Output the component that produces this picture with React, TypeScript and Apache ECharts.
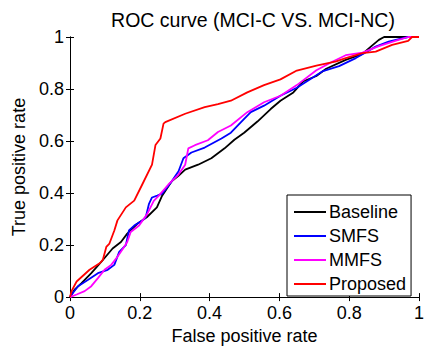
import React, { useEffect, useRef } from "react";
import * as echarts from "echarts";

const titleText = "ROC curve (MCI-C VS. MCI-NC)";
const xName = "False positive rate";
const yName = "True positive rate";
const seriesNames = ["Baseline", "SMFS", "MMFS", "Proposed"];
const seriesColors = ["#000000", "#0000ff", "#ff00ff", "#ff0000"];

const baseline: number[][] = [
  [0, 0], [0.014, 0.03], [0.033, 0.054], [0.061, 0.092], [0.09, 0.136], [0.122, 0.187],
  [0.146, 0.212], [0.164, 0.244], [0.192, 0.281], [0.22, 0.307], [0.249, 0.345],
  [0.264, 0.39], [0.273, 0.408], [0.292, 0.446], [0.31, 0.465], [0.33, 0.49],
  [0.367, 0.509], [0.405, 0.534], [0.443, 0.572], [0.471, 0.605], [0.499, 0.632],
  [0.537, 0.675], [0.575, 0.723], [0.603, 0.755], [0.64, 0.787], [0.669, 0.83],
  [0.706, 0.85], [0.734, 0.878], [0.79, 0.912], [0.838, 0.935], [0.862, 0.963],
  [0.885, 0.989], [0.9, 1], [1, 1],
];
const smfs: number[][] = [
  [0, 0], [0.005, 0.01], [0.023, 0.042], [0.052, 0.067], [0.08, 0.092], [0.108, 0.105],
  [0.127, 0.124], [0.141, 0.174], [0.16, 0.2], [0.169, 0.256], [0.184, 0.275],
  [0.207, 0.294], [0.217, 0.307], [0.226, 0.357], [0.235, 0.383], [0.25, 0.39],
  [0.264, 0.398], [0.292, 0.446], [0.311, 0.484], [0.325, 0.534], [0.348, 0.556],
  [0.386, 0.575], [0.434, 0.61], [0.461, 0.632], [0.49, 0.673], [0.518, 0.711],
  [0.556, 0.736], [0.603, 0.774], [0.65, 0.805], [0.687, 0.837], [0.725, 0.869],
  [0.771, 0.888], [0.819, 0.919], [0.876, 0.963], [0.913, 0.982], [0.969, 1], [1, 1],
];
const mmfs: number[][] = [
  [0, 0], [0.019, 0.01], [0.042, 0.023], [0.061, 0.042], [0.08, 0.073], [0.099, 0.105],
  [0.118, 0.124], [0.136, 0.155], [0.155, 0.193], [0.164, 0.212], [0.174, 0.25],
  [0.198, 0.275], [0.221, 0.319], [0.24, 0.37], [0.254, 0.389], [0.282, 0.433],
  [0.311, 0.471], [0.33, 0.509], [0.339, 0.572], [0.358, 0.584], [0.395, 0.603],
  [0.424, 0.635], [0.461, 0.66], [0.508, 0.711], [0.556, 0.749], [0.603, 0.774],
  [0.65, 0.815], [0.706, 0.872], [0.753, 0.906], [0.79, 0.93], [0.838, 0.94],
  [0.885, 0.965], [0.932, 0.985], [0.969, 1], [1, 1],
];
const proposed: number[][] = [
  [0, 0], [0.005, 0.025], [0.019, 0.06], [0.056, 0.105], [0.085, 0.13], [0.094, 0.143],
  [0.104, 0.193], [0.113, 0.206], [0.127, 0.256], [0.136, 0.295], [0.16, 0.345],
  [0.184, 0.371], [0.207, 0.433], [0.235, 0.509], [0.245, 0.585], [0.259, 0.61],
  [0.268, 0.667], [0.273, 0.673], [0.33, 0.705], [0.386, 0.73], [0.424, 0.742],
  [0.461, 0.755], [0.508, 0.787], [0.556, 0.815], [0.603, 0.837], [0.65, 0.871],
  [0.706, 0.89], [0.763, 0.906], [0.79, 0.919], [0.838, 0.938], [0.876, 0.944],
  [0.923, 0.97], [0.969, 0.985], [0.98, 1], [1, 1],
];
const seriesData = [baseline, smfs, mmfs, proposed];
const tickLabels = ["0", "0.2", "0.4", "0.6", "0.8", "1"];

const FONT = "'Liberation Sans', Arial, Helvetica, sans-serif";
const FS = 18;

export default function App() {
  const ref = useRef<HTMLDivElement>(null);
  useEffect(() => {
    if (!ref.current) return;
    const chart = echarts.init(ref.current, undefined, { renderer: "svg" });
    const fmt = (v: number) => tickLabels[Math.round(v * 5)] ?? String(v);
    const mainAxis = (pos: "bottom" | "left", name: string) => ({
      type: "value" as const,
      position: pos,
      min: 0,
      max: 1,
      interval: 0.2,
      name,
      nameLocation: "middle" as const,
      nameGap: pos === "bottom" ? 22 : 33,
      nameTextStyle: { color: "#000", fontSize: FS, fontFamily: FONT },
      axisLine: { show: true, lineStyle: { color: "#000", width: 1 } },
      axisTick: { show: true, inside: true, length: 4, lineStyle: { color: "#000" } },
      axisLabel: {
        color: "#000",
        fontSize: FS,
        fontFamily: FONT,
        margin: pos === "bottom" ? 7 : 6,
        formatter: fmt,
      },
      splitLine: { show: false },
    });
    const sideAxis = (pos: "top" | "right") => ({
      type: "value" as const,
      position: pos,
      min: 0,
      max: 1,
      interval: 0.2,
      axisLine: { show: true, lineStyle: { color: "#000", width: 1 } },
      axisTick: { show: true, inside: true, length: 4, lineStyle: { color: "#000" } },
      axisLabel: { show: false },
      splitLine: { show: false },
    });
    chart.setOption({
      animation: false,
      backgroundColor: "#fff",
      title: {
        text: titleText,
        left: 248,
        textAlign: "center",
        top: 5,
        textStyle: { color: "#000", fontSize: 19.5, fontWeight: "normal", fontFamily: FONT },
      },
      grid: { left: 70, right: 3, top: 37, bottom: 49, containLabel: false },
      xAxis: [mainAxis("bottom", xName), sideAxis("top")],
      yAxis: [mainAxis("left", yName), sideAxis("right")],
      legend: {
        orient: "vertical",
        left: 287,
        top: 195,
        data: seriesNames,
        icon: "rect",
        backgroundColor: "#fff",
        borderColor: "#000",
        borderWidth: 1,
        borderRadius: 0,
        padding: [8, 5, 3, 7],
        itemWidth: 32,
        itemHeight: 2,
        itemGap: 6,
        textStyle: { color: "#000", fontSize: FS, lineHeight: 18, fontFamily: FONT, padding: [0, 0, 0, -2] },
      },
      series: seriesNames.map((name, i) => ({
        name,
        type: "line",
        data: seriesData[i],
        xAxisIndex: 0,
        yAxisIndex: 0,
        symbol: "none",
        showSymbol: false,
        color: seriesColors[i],
        lineStyle: { color: seriesColors[i], width: 1.8 },
        z: 2 + i,
      })),
    });
    return () => chart.dispose();
  }, []);
  return (
    <div
      ref={ref}
      style={{ position: "absolute", left: 0, top: 0, width: 427, height: 350 }}
    />
  );
}
